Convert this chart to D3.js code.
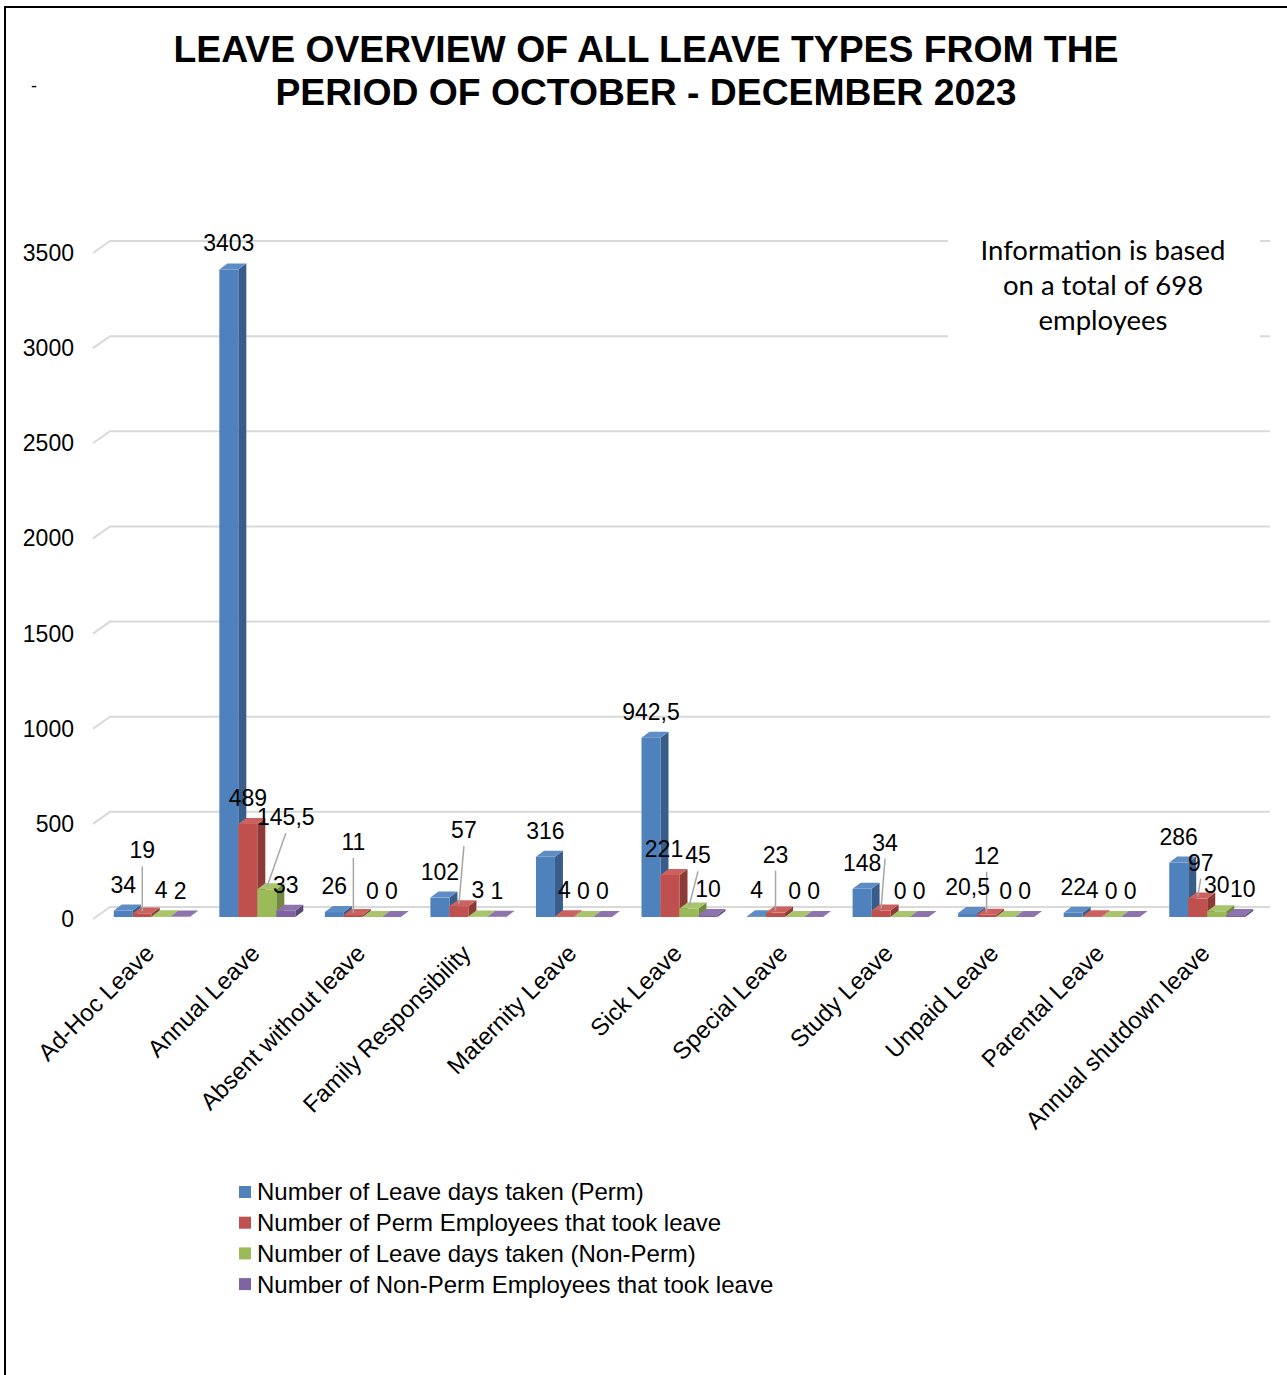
<!DOCTYPE html>
<html><head><meta charset="utf-8">
<script src="https://cdn.jsdelivr.net/npm/d3@7"></script>
<style>body{margin:0;background:#fff}svg{display:block}</style>
</head><body>
<svg id="chart" width="1287" height="1375"></svg>
<script>
const categories = ["Ad-Hoc Leave","Annual Leave","Absent without leave","Family Responsibility","Maternity Leave","Sick Leave","Special Leave","Study Leave","Unpaid Leave","Parental Leave","Annual shutdown leave"];
const seriesNames = ["Number of Leave days taken (Perm)","Number of Perm Employees that took leave","Number of Leave days taken (Non-Perm)","Number of Non-Perm Employees that took leave"];
const permDays = [34, 3403, 26, 102, 316, 942.5, 4, 148, 20.5, 22, 286];
const permEmployees = [19, 489, 11, 57, 4, 221, 23, 34, 12, 4, 97];
const nonPermDays = [4, 145.5, 0, 3, 0, 45, 0, 0, 0, 0, 30];
const nonPermEmployees = [2, 33, 0, 1, 0, 10, 0, 0, 0, 0, 10];
const yTicks = [0, 500, 1000, 1500, 2000, 2500, 3000, 3500];
const titleLines = ["LEAVE OVERVIEW OF ALL LEAVE TYPES FROM THE", "PERIOD OF OCTOBER - DECEMBER 2023"];
const noteLines = ["Information is based", "on a total of 698", "employees"];

const series = [permDays, permEmployees, nonPermDays, nonPermEmployees];
const colors = [
  {front:"#4F81BD", side:"#385D8A", top:"#5E8DC6"},
  {front:"#C0504D", side:"#8C3A38", top:"#CC625F"},
  {front:"#9BBB59", side:"#71893F", top:"#A8C56C"},
  {front:"#8064A2", side:"#5C4776", top:"#8E74AE"}
];
// label nudges (layout only): key "category-series" -> [dx, dy]
const labelNudge = {
  "0-1":[0,-37], "1-2":[19,-46], "2-1":[0,-47], "3-1":[5,-50],
  "5-1":[-6,0], "5-2":[9,-27], "6-1":[0,-32], "7-1":[4,-42], "8-1":[0,-33],
  "10-1":[3,-10], "10-3":[7,0]
};

const svg = d3.select("#chart");
const font = "'Liberation Sans', Arial, sans-serif";

// border
svg.append("line").attr("x1",5).attr("y1",7).attr("x2",5).attr("y2",1375).attr("stroke","#000").attr("stroke-width",2);
svg.append("line").attr("x1",4).attr("y1",7).attr("x2",1287).attr("y2",7).attr("stroke","#000").attr("stroke-width",2);

// title
svg.append("text").attr("x",31).attr("y",92).attr("font-family",font).attr("font-size",18).text("-");
svg.selectAll("text.title").data(titleLines).join("text").attr("class","title")
  .attr("x",646).attr("y",(d,i)=>62+i*43).attr("text-anchor","middle")
  .attr("font-family",font).attr("font-weight","bold").attr("font-size",37.3).attr("fill","#000").text(d=>d);

const y = d3.scaleLinear().domain([0,3500]).range([907,241]);
const x = d3.scaleBand().domain(categories).range([99,1260]).padding(0);
const xs = d3.scaleBand().domain(d3.range(4)).range([0,76]);
const groupOffset = (x.bandwidth()-76)/2;
const wallDx = 17, wallDy = 12, barShift = 10, bdx = 8, bdy = -6;

// gridlines
const grid = svg.append("g");
yTicks.forEach(t=>{
  grid.append("path").attr("d",`M93,${y(t)+wallDy} L${93+wallDx},${y(t)} L1270,${y(t)}`)
    .attr("fill","none").attr("stroke","#D9D9D9").attr("stroke-width",2);
});
svg.append("g").selectAll("text").data(yTicks).join("text")
  .attr("x",74).attr("y",d=>y(d)+wallDy).attr("dy","0.35em").attr("text-anchor","end")
  .attr("font-family",font).attr("font-size",23).text(d=>d);

// note box
svg.append("rect").attr("x",948).attr("y",228).attr("width",312).attr("height",118).attr("fill","#fff");
svg.selectAll("text.note").data(noteLines).join("text").attr("class","note")
  .attr("x",1103).attr("y",(d,i)=>260+i*35).attr("text-anchor","middle")
  .attr("font-family","Lato, 'Open Sans', sans-serif").attr("font-size",27.5).attr("fill","#000").text(d=>d);

// bars
const fmt = v => String(v).replace(".", ",");
const bars = svg.append("g");
const labels = [];
categories.forEach((c,ci)=>{
  series.forEach((s,si)=>{
    const v = s[ci];
    const bx = x(c)+groupOffset+xs(si), w = xs.bandwidth();
    const y0 = y(0)+barShift, yt = y(v)+barShift;
    const col = colors[si];
    const g = bars.append("g");
    g.append("path").attr("d",`M${bx+w},${yt} L${bx+w+bdx},${yt+bdy} L${bx+w+bdx},${y0+bdy} L${bx+w},${y0} Z`).attr("fill",col.side);
    g.append("rect").attr("x",bx).attr("y",yt).attr("width",w).attr("height",Math.max(0,y0-yt)).attr("fill",col.front);
    g.append("path").attr("d",`M${bx},${yt} L${bx+bdx},${yt+bdy} L${bx+w+bdx},${yt+bdy} L${bx+w},${yt} Z`).attr("fill",col.top);
    const n = labelNudge[ci+"-"+si] || [0,0];
    const cx = bx + w/2;
    labels.push({v, cx, yt, lx: cx+n[0], ly: yt-18+n[1], lead: n[1] <= -10});
  });
});
const lab = svg.append("g");
labels.filter(d=>d.lead).forEach(d=>{
  lab.append("line").attr("x1",d.lx).attr("y1",d.ly+8).attr("x2",d.cx).attr("y2",d.yt-2)
    .attr("stroke","#A6A6A6").attr("stroke-width",1.5);
});
lab.selectAll("text").data(labels).join("text")
  .attr("x",d=>d.lx).attr("y",d=>d.ly).attr("text-anchor","middle")
  .attr("font-family",font).attr("font-size",23).attr("fill","#000").text(d=>fmt(d.v));

// category labels
svg.append("g").selectAll("text").data(categories).join("text")
  .attr("transform",c=>`translate(${x(c)+x.bandwidth()/2-8},${943}) rotate(-45)`)
  .attr("text-anchor","end").attr("dy","0.7em")
  .attr("font-family",font).attr("font-size",24).text(d=>d);

// legend
const leg = svg.append("g").selectAll("g").data(seriesNames).join("g")
  .attr("transform",(d,i)=>`translate(239,${1192+i*30.7})`);
leg.append("rect").attr("x",0).attr("y",-6).attr("width",12).attr("height",12).attr("fill",(d,i)=>colors[i].front);
leg.append("text").attr("x",18).attr("dy","0.35em").attr("font-family",font).attr("font-size",24).text(d=>d);
</script>
</body></html>
